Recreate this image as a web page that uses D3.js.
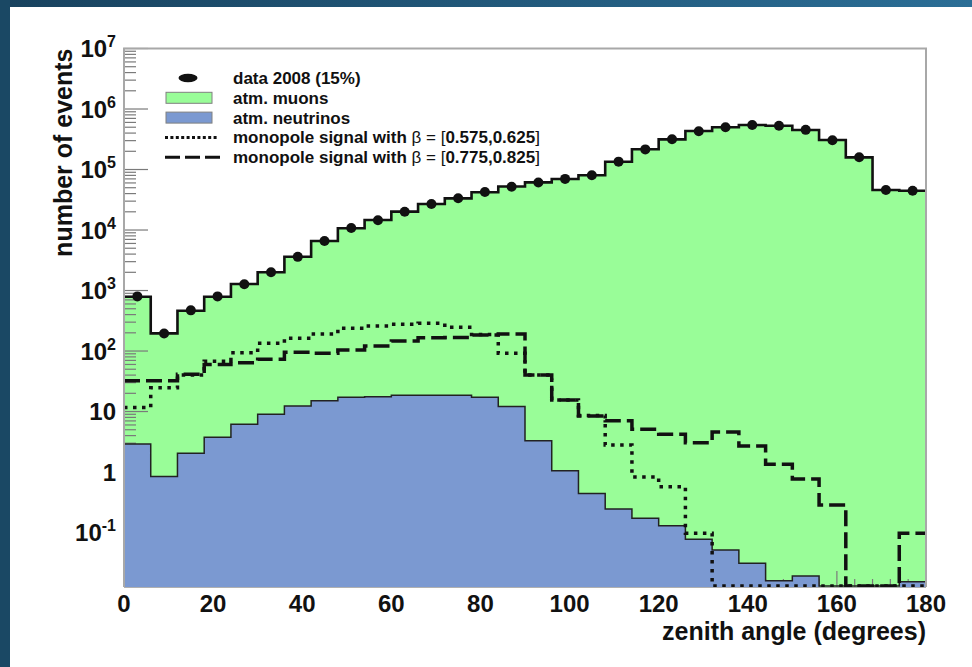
<!DOCTYPE html>
<html>
<head>
<meta charset="utf-8">
<script src="https://cdn.jsdelivr.net/npm/d3@7"></script>
<style>
  html, body { margin: 0; padding: 0; background: #ffffff; overflow: hidden; }
  svg { display: block; }
  text { font-family: "Liberation Sans", Arial, Helvetica, sans-serif; font-weight: bold; fill: #111; }
</style>
</head>
<body>
<svg id="chart" width="972" height="667"></svg>
<script>
// Zenith angle bins (lower edges, degrees), 6 degrees wide
const binLow = [0, 6, 12, 18, 24, 30, 36, 42, 48, 54, 60, 66, 72, 78, 84,
                90, 96, 102, 108, 114, 120, 126, 132, 138, 144, 150, 156, 162, 168, 174];
const binWidth = 6;

// Data 2008 (15% sample)
const data2008 = [800, 195, 470, 800, 1270, 2010, 3600, 6600, 10800, 14500, 20000, 27000, 33500, 42500, 52000,
                  61000, 70000, 80500, 135000, 215000, 316000, 430000, 500000, 545000, 528000, 452000, 305000, 160000, 46000, 44500];

// Atmospheric muons (MC)
const atmMuons = [790, 196, 464, 790, 1280, 2000, 3620, 6580, 10700, 14600, 20100, 26900, 33400, 42000, 52400,
                  61400, 69600, 80200, 134500, 216000, 315000, 433000, 499000, 544000, 530000, 450000, 307000, 159000, 45800, 44600];

// Atmospheric neutrinos (MC)
const atmNeutrinos = [2.9, 0.84, 2.04, 3.75, 6.14, 9.0, 12.3, 15.1, 17.2, 17.6, 18.5, 18.5, 18.5, 17.2, 12.1,
                      3.29, 1.05, 0.444, 0.244, 0.172, 0.129, 0.0773, 0.0514, 0.031, 0.016, 0.0191, 0, 0, 0, 0.0154];

// Monopole signal, beta in [0.575, 0.625]
const monopoleBeta060 = [11.7, 24.7, 40, 68, 94, 134, 162, 191, 237, 259, 276, 287, 247, 188, 92,
                         40, 15.5, 8.6, 2.79, 0.826, 0.571, 0.097, 0, 0, 0, 0, 0, 0, 0, 0];

// Monopole signal, beta in [0.775, 0.825]
const monopoleBeta080 = [32.3, 32.3, 41.2, 60, 64, 72.9, 95.2, 92, 104, 121, 146, 166, 168, 184, 191,
                         40.1, 15.5, 8.43, 7.05, 5.08, 4.2, 3.05, 4.58, 2.69, 1.34, 0.766, 0.285, 0, 0, 0.0973];

// Axis ticks
const xTickValues = [0, 20, 40, 60, 80, 100, 120, 140, 160, 180];
const yTickValues = [1e7, 1e6, 1e5, 1e4, 1e3, 1e2, 10, 1, 0.1];
const yTickLabels = [["10", "7"], ["10", "6"], ["10", "5"], ["10", "4"], ["10", "3"], ["10", "2"], ["10", ""], ["1", ""], ["10", "-1"]];

const legendEntries = [
  { kind: "marker", label: "data 2008 (15%)" },
  { kind: "boxMuon", label: "atm. muons" },
  { kind: "boxNu", label: "atm. neutrinos" },
  { kind: "dotted", label: ["monopole signal with ", "β = [", "0.575,0.625", "]"] },
  { kind: "dashed", label: ["monopole signal with ", "β = [", "0.775,0.825", "]"] }
];

const colors = { muon: "#99fd98", nu: "#7b99d1", frame: "#a8a8a8", tick: "#7a7a7a" };

const W = 972, H = 667;
const plot = { left: 124, right: 926, top: 48.5, bottom: 587 };
const yMin = Math.pow(10, -1.9), yMax = 1e7;

const svg = d3.select("#chart");

// Page background with the dark frame band along top and left
const defs = svg.append("defs");
const grad = defs.append("linearGradient").attr("id", "topband").attr("x1", "0%").attr("x2", "100%");
grad.append("stop").attr("offset", "0%").attr("stop-color", "#18425e");
grad.append("stop").attr("offset", "100%").attr("stop-color", "#2b6e96");
svg.append("rect").attr("x", 0).attr("y", 0).attr("width", W).attr("height", H).attr("fill", "#ffffff");
svg.append("rect").attr("x", 0).attr("y", 0).attr("width", W).attr("height", 7).attr("fill", "url(#topband)");
svg.append("rect").attr("x", 0).attr("y", 0).attr("width", 10).attr("height", H).attr("fill", "#1a4864");

const x = d3.scaleLinear().domain([0, 180]).range([plot.left, plot.right]);
const y = d3.scaleLog().domain([yMin, yMax]).range([plot.bottom, plot.top]);

// Step outline points for a binned series; empty bins sit on the lower frame edge
function stepPoints(values) {
  const pts = [];
  values.forEach((v, i) => {
    const vv = Math.max(v, yMin);
    pts.push([binLow[i], vv]);
    pts.push([binLow[i] + binWidth, vv]);
  });
  return pts;
}
const yc = v => Math.min(y(v), plot.bottom - 1);

const area = d3.area().x(d => x(d[0])).y0(plot.bottom).y1(d => y(d[1]));
const line = d3.line().x(d => x(d[0])).y(d => yc(d[1]));

// Muon fill
svg.append("path").datum(stepPoints(atmMuons)).attr("d", area).attr("fill", colors.muon);

// Axis ticks (drawn under the neutrino fill)
const tickG = svg.append("g").attr("stroke", colors.tick).attr("stroke-width", 1.2);
const yMajorLen = 24, yMinorLen = 12, xMajorLen = 16, xMinorLen = 8;
yTickValues.forEach(v => {
  tickG.append("line").attr("x1", plot.left).attr("x2", plot.left + yMajorLen)
    .attr("y1", y(v)).attr("y2", y(v));
});
for (let k = -2; k <= 6; k++) {
  for (let m = 2; m <= 9; m++) {
    const v = m * Math.pow(10, k);
    if (v < yMin || v > yMax) continue;
    tickG.append("line").attr("x1", plot.left).attr("x2", plot.left + yMinorLen)
      .attr("y1", y(v)).attr("y2", y(v));
  }
}
xTickValues.forEach(v => {
  tickG.append("line").attr("x1", x(v)).attr("x2", x(v))
    .attr("y1", plot.bottom).attr("y2", plot.bottom - xMajorLen);
});
for (let v = 0; v <= 180; v += 4) {
  if (v % 20 === 0) continue;
  tickG.append("line").attr("x1", x(v)).attr("x2", x(v))
    .attr("y1", plot.bottom).attr("y2", plot.bottom - xMinorLen);
}

// Neutrino fill and outline
svg.append("path").datum(stepPoints(atmNeutrinos)).attr("d", area).attr("fill", colors.nu);
svg.append("path").datum(stepPoints(atmNeutrinos)).attr("d", line)
  .attr("fill", "none").attr("stroke", "#222").attr("stroke-width", 1.5);

// Muon outline
svg.append("path").datum(stepPoints(atmMuons)).attr("d", line)
  .attr("fill", "none").attr("stroke", "#111").attr("stroke-width", 2.6);

// Monopole signal histograms
svg.append("path").datum(stepPoints(monopoleBeta060)).attr("d", line)
  .attr("fill", "none").attr("stroke", "#111").attr("stroke-width", 3.5)
  .attr("stroke-dasharray", "3.5 5.5");
svg.append("path").datum(stepPoints(monopoleBeta080)).attr("d", line)
  .attr("fill", "none").attr("stroke", "#111").attr("stroke-width", 3.5)
  .attr("stroke-dasharray", "16 6");

// Data points
svg.append("g").selectAll("circle").data(data2008).join("circle")
  .attr("cx", (d, i) => x(binLow[i] + binWidth / 2))
  .attr("cy", d => y(d))
  .attr("r", 5)
  .attr("fill", "#111");

// Frame
svg.append("path")
  .attr("d", `M${plot.left},${plot.bottom}V${plot.top}H${plot.right}V${plot.bottom}`)
  .attr("fill", "none").attr("stroke", colors.frame).attr("stroke-width", 2);
svg.append("line").attr("x1", plot.left).attr("x2", plot.right)
  .attr("y1", plot.bottom + 0.5).attr("y2", plot.bottom + 0.5)
  .attr("stroke", "#b0b0b0").attr("stroke-width", 1);

// X tick labels
svg.append("g").selectAll("text").data(xTickValues).join("text")
  .attr("x", d => x(d)).attr("y", 612)
  .attr("text-anchor", "middle").attr("font-size", 24)
  .text(d => d);

// Y tick labels with exponents
yTickValues.forEach((v, i) => {
  const [base, exp] = yTickLabels[i];
  const t = svg.append("text").attr("x", 116).attr("y", y(v) + 8.5)
    .attr("text-anchor", "end").attr("font-size", 24);
  t.append("tspan").text(base);
  if (exp) {
    t.append("tspan").attr("dy", -10).attr("font-size", 16).text(exp);
  }
});

// Axis titles
svg.append("text").attr("x", plot.right).attr("y", 640)
  .attr("text-anchor", "end").attr("font-size", 25)
  .text("zenith angle (degrees)");
svg.append("text")
  .attr("transform", `translate(72,${plot.top}) rotate(-90)`)
  .attr("text-anchor", "end").attr("font-size", 25)
  .text("number of events");

// Legend
const lg = svg.append("g");
legendEntries.forEach((e, i) => {
  const cy = 78 + i * 19.8;
  if (e.kind === "marker") {
    lg.append("ellipse").attr("cx", 188).attr("cy", cy).attr("rx", 9.5).attr("ry", 4.2).attr("fill", "#111");
  } else if (e.kind === "boxMuon" || e.kind === "boxNu") {
    lg.append("rect").attr("x", 166).attr("y", cy - 5.5).attr("width", 46).attr("height", 11)
      .attr("fill", e.kind === "boxMuon" ? colors.muon : colors.nu)
      .attr("stroke", "#808080").attr("stroke-width", 1);
  } else {
    lg.append("line").attr("x1", 165).attr("x2", e.kind === "dotted" ? 218 : 220)
      .attr("y1", cy).attr("y2", cy)
      .attr("stroke", "#111").attr("stroke-width", 3)
      .attr("stroke-dasharray", e.kind === "dotted" ? "3 2.4" : "15 5");
  }
  const t = lg.append("text").attr("x", 233).attr("y", cy + 6).attr("font-size", 17);
  if (Array.isArray(e.label)) {
    t.append("tspan").text(e.label[0]);
    t.append("tspan").attr("font-weight", "normal").text(e.label[1]);
    t.append("tspan").text(e.label[2]);
    t.append("tspan").attr("font-weight", "normal").text(e.label[3]);
  } else {
    t.text(e.label);
  }
});
</script>
</body>
</html>
